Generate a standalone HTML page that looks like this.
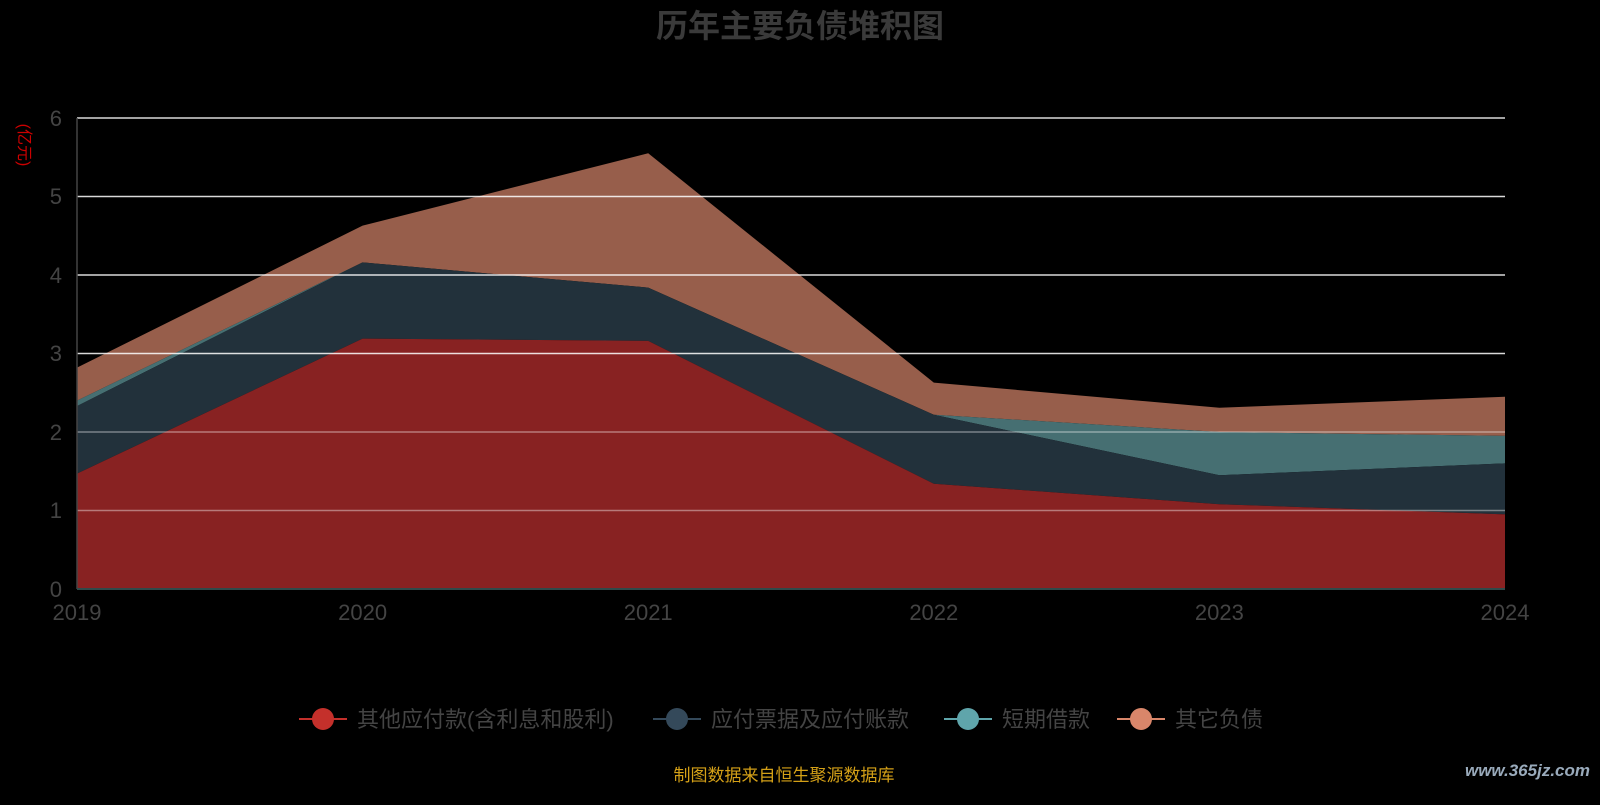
<!DOCTYPE html>
<html><head><meta charset="utf-8"><style>
body{margin:0;background:#000;width:1600px;height:800px;overflow:hidden}
text{font-family:"Liberation Sans","Noto Sans CJK SC",sans-serif}
</style></head><body>
<svg width="1600" height="800" viewBox="0 0 1600 800">
<rect width="1600" height="800" fill="#000"/>
<text x="800" y="37" text-anchor="middle" font-size="32" font-weight="bold" fill="#3a3a3a">历年主要负债堆积图</text>
<text x="24" y="145" font-size="16" fill="#cc0000" transform="rotate(90 24 145)" text-anchor="middle" dy="5" dx="0">(亿元)</text>
<!-- areas: x0=77 step 285.6 ; y=589-78.5v -->
<polygon fill="#975e4b" points="77,367.6 362.6,225.6 648.2,153.3 933.8,382.6 1219.4,407.7 1505,396.7 1505,435.9 1219.4,432 933.8,414.7 648.2,287.6 362.6,262.4 77,400.6"/>
<polygon fill="#466f72" points="77,400.6 362.6,262.4 648.2,287.6 933.8,414.7 1219.4,432 1505,435.9 1505,463.4 1219.4,475.2 933.8,414.7 648.2,287.6 362.6,262.4 77,406.1"/>
<polygon fill="#22313b" points="77,406.1 362.6,262.4 648.2,287.6 933.8,414.7 1219.4,475.2 1505,463.4 1505,514.4 1219.4,504.2 933.8,483.8 648.2,340.9 362.6,338.6 77,473.6"/>
<polygon fill="#882222" points="77,473.6 362.6,338.6 648.2,340.9 933.8,483.8 1219.4,504.2 1505,514.4 1505,589 77,589"/>
<g stroke="#fff" stroke-width="1.5" opacity="0.85">
<line x1="77" y1="118" x2="1505" y2="118"/><line x1="77" y1="196.5" x2="1505" y2="196.5"/><line x1="77" y1="275" x2="1505" y2="275"/><line x1="77" y1="353.5" x2="1505" y2="353.5"/>
</g>
<g stroke="#fff" stroke-width="1.5" opacity="0.4">
<line x1="77" y1="432" x2="1505" y2="432"/><line x1="77" y1="510.5" x2="1505" y2="510.5"/>
</g>
<line x1="77" y1="118" x2="77" y2="589" stroke="#444" stroke-width="1.5"/>
<line x1="77" y1="589" x2="1505" y2="589" stroke="#2f4a4a" stroke-width="2"/>
<g fill="#444" font-size="22" text-anchor="end">
<text x="62" y="126">6</text><text x="62" y="204">5</text><text x="62" y="283">4</text><text x="62" y="361">3</text><text x="62" y="440">2</text><text x="62" y="518">1</text><text x="62" y="597">0</text>
</g>
<g fill="#444" font-size="22" text-anchor="middle">
<text x="77" y="620">2019</text><text x="362.6" y="620">2020</text><text x="648.2" y="620">2021</text><text x="933.8" y="620">2022</text><text x="1219.4" y="620">2023</text><text x="1505" y="620">2024</text>
</g>
<g font-size="22" fill="#444">
<line x1="299" y1="719" x2="347" y2="719" stroke="#c4302b" stroke-width="2"/><circle cx="323" cy="719" r="11" fill="#c4302b"/>
<text x="357" y="727">其他应付款(含利息和股利)</text>
<line x1="653" y1="719" x2="701" y2="719" stroke="#34495a" stroke-width="2"/><circle cx="677" cy="719" r="11" fill="#34495a"/>
<text x="711" y="727">应付票据及应付账款</text>
<line x1="944" y1="719" x2="992" y2="719" stroke="#5fa5ab" stroke-width="2"/><circle cx="968" cy="719" r="11" fill="#5fa5ab"/>
<text x="1002" y="727">短期借款</text>
<line x1="1117" y1="719" x2="1165" y2="719" stroke="#d9866a" stroke-width="2"/><circle cx="1141" cy="719" r="11" fill="#d9866a"/>
<text x="1175" y="727">其它负债</text>
</g>
<text x="784" y="781" text-anchor="middle" font-size="17" fill="#d4a017">制图数据来自恒生聚源数据库</text>
<text x="1590" y="776" text-anchor="end" font-size="17" font-weight="bold" font-style="italic" fill="#9ab">www.365jz.com</text>
</svg>
</body></html>
